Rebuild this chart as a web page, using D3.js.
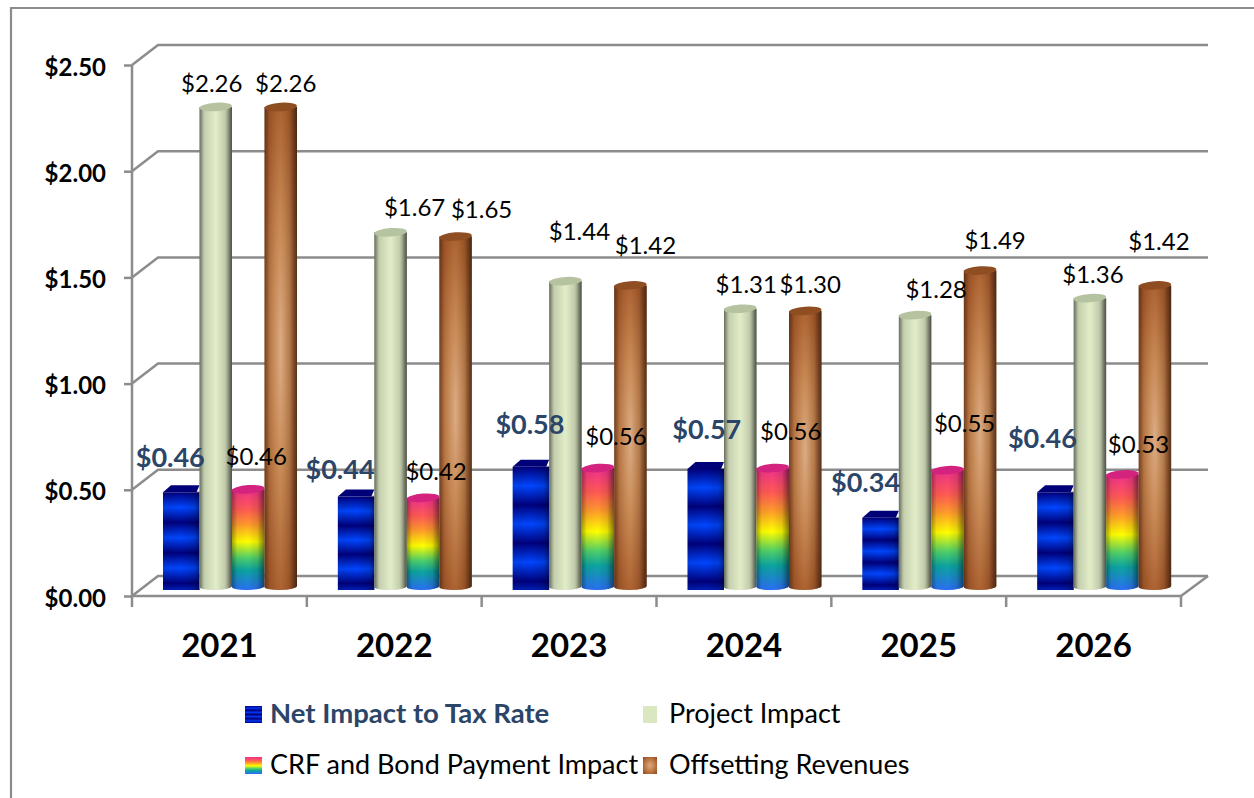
<!DOCTYPE html>
<html>
<head>
<meta charset="utf-8">
<script src="https://cdn.jsdelivr.net/npm/d3@7"></script>
<style>
  html, body { margin: 0; background: #fff; overflow: hidden; }
  text { font-family: Lato, "Open Sans", sans-serif; }
  .axis path, .axis line { stroke: #8c8c8c; stroke-width: 2.5; }
</style>
</head>
<body>
<div id="chart"></div>
<script>
const years = ["2021", "2022", "2023", "2024", "2025", "2026"];
const seriesNames = ["Net Impact to Tax Rate", "Project Impact", "CRF and Bond Payment Impact", "Offsetting Revenues"];
const netImpact = [0.46, 0.44, 0.58, 0.57, 0.34, 0.46];
const projectImpact = [2.26, 1.67, 1.44, 1.31, 1.28, 1.36];
const crfImpact = [0.46, 0.42, 0.56, 0.56, 0.55, 0.53];
const offsetRevenues = [2.26, 1.65, 1.42, 1.30, 1.49, 1.42];
const yTicks = [0, 0.5, 1, 1.5, 2, 2.5];

// hand placed data labels in the original, offset from the top of each bar
const netNudge = [[-13, -35], [-18, -27], [-3, -42], [-1, -39], [-17, -35], [-15, -54]];
const projectNudge = [[-4, -26], [24, -28], [14, -53], [6, -27], [21, -29], [3, -27]];
const crfNudge = [[8, -36], [13, -29], [18, -34], [18, -39], [17, -50], [16, -33]];
const offsetNudge = [[5, -26], [26, -30], [15, -43], [5, -29], [15, -33], [4, -47]];

const width = 1254, height = 798;
const svg = d3.select("#chart").append("svg").attr("width", width).attr("height", height);
const defs = svg.append("defs");

function addGradient(id, attrs, stops, type) {
    const g = defs.append(type || "linearGradient").attr("id", id);
    Object.keys(attrs).forEach(k => g.attr(k, attrs[k]));
    stops.forEach(s => g.append("stop").attr("offset", s[0]).attr("stop-color", s[1]).attr("stop-opacity", s[2] === undefined ? 1 : s[2]));
}

addGradient("blueFill", {x1: 0, y1: 0, x2: 0, y2: 0.31, spreadMethod: "repeat"},
    [[0, "#00007c"], [0.5, "#0046ff"], [1, "#00007c"]]);
addGradient("blueSwatch", {x1: 0, y1: 0, x2: 0, y2: 0.25, spreadMethod: "repeat"},
    [[0, "#00007c"], [0.5, "#0036f0"], [1, "#00007c"]]);
addGradient("rainbowFill", {x1: 0, y1: 0, x2: 0, y2: 1},
    [[0, "#f0308c"], [0.2, "#ff5a55"], [0.35, "#ff9a2c"], [0.52, "#ffff00"], [0.68, "#4fd06a"], [0.8, "#0ca4a0"], [1, "#2a6ff5"]]);
addGradient("greenFill", {x1: 0, y1: 0, x2: 1, y2: 0},
    [[0, "#9da78f"], [0.12, "#cdd8b6"], [0.5, "#e2edc8"], [0.85, "#d6e1bd"], [1, "#99a38a"]]);
addGradient("brownFill", {cx: 0.5, cy: 0.5, r: 0.72},
    [[0, "#dcab84"], [0.35, "#c98a55"], [0.75, "#a85c2c"], [1, "#8e4a20"]], "radialGradient");
addGradient("brownSwatch", {cx: 0.5, cy: 0.5, r: 0.7},
    [[0, "#dcab84"], [0.5, "#c07a45"], [1, "#8e4a20"]], "radialGradient");
addGradient("edgeShade", {x1: 0, y1: 0, x2: 1, y2: 0},
    [[0, "#000", 0.34], [0.16, "#000", 0.05], [0.5, "#000", 0], [0.78, "#000", 0.1], [1, "#000", 0.5]]);
addGradient("boxShade", {x1: 0, y1: 0, x2: 1, y2: 0},
    [[0, "#000", 0.08], [0.5, "#000", 0], [0.85, "#000", 0.12], [1, "#000", 0.42]]);

const y = d3.scaleLinear().domain([0, 2.5]).range([596, 65]);
const x0 = d3.scaleBand().domain(years).range([132, 1181]);
const x1 = d3.scaleBand().domain(seriesNames).range([35, 165]);
const depthX = 26, depthY = 20;
const gridColor = "#8c8c8c";

// frame, only the top and left show in the crop
svg.append("path").attr("d", `M11,${height}V8H${width}`).attr("fill", "none").attr("stroke", gridColor).attr("stroke-width", 2.2);

// back wall lines with the little diagonals
const walls = svg.append("g").attr("fill", "none").attr("stroke", gridColor).attr("stroke-width", 2.5);
yTicks.forEach(t => {
    walls.append("path").attr("d", `M${x0.range()[0]},${y(t)}L${x0.range()[0] + depthX},${y(t) - depthY}H1208`);
});
walls.append("path").attr("d", `M${x0.range()[1]},${y(0)}L1208,${y(0) - depthY}`);

const yAxis = d3.axisLeft(y).tickValues(yTicks).tickSize(8).tickPadding(18).tickFormat(d3.format("$.2f"));
svg.append("g").attr("class", "axis").attr("transform", `translate(${x0.range()[0]},0)`).call(yAxis)
    .call(g => g.select(".domain").attr("d", `M0,${y(2.5)}V${y(0)}`))
    .selectAll("text").attr("font-size", 24).attr("font-weight", 700).attr("fill", "#000").attr("dy", "0.42em");

// floor front edge, ticks sit on group boundaries
const xAxis = d3.axisBottom(x0).tickSize(0).tickPadding(38);
svg.append("g").attr("class", "axis").attr("transform", `translate(0,${y(0)})`).call(xAxis)
    .call(g => g.select(".domain").attr("d", `M${x0.range()[0]},0H${x0.range()[1]}`))
    .selectAll("text").attr("font-size", 33).attr("font-weight", 700).attr("fill", "#000");
svg.selectAll(".bound").data(years.concat("end")).enter().append("line")
    .attr("class", "bound")
    .attr("x1", (d, i) => x0.range()[0] + i * x0.step()).attr("x2", (d, i) => x0.range()[0] + i * x0.step())
    .attr("y1", y(0)).attr("y2", y(0) + 11)
    .attr("stroke", gridColor).attr("stroke-width", 2.5);

function cylinder(g, xLeft, w, topY, bottomY, fill, topFill) {
    const rx = w / 2, ryB = 3.5, ryT = 4.2;
    g.append("path")
        .attr("d", `M${xLeft},${topY}V${bottomY}A${rx},${ryB} -2 0 0 ${xLeft + w},${bottomY - 1}V${topY}Z`)
        .attr("fill", fill);
    g.append("path")
        .attr("d", `M${xLeft},${topY}V${bottomY}A${rx},${ryB} -2 0 0 ${xLeft + w},${bottomY - 1}V${topY}Z`)
        .attr("fill", "url(#edgeShade)");
    g.append("ellipse").attr("cx", xLeft + rx).attr("cy", topY).attr("rx", rx).attr("ry", ryT)
        .attr("transform", `rotate(-4 ${xLeft + rx} ${topY})`).attr("fill", topFill);
}

function box(g, xLeft, w, topY, bottomY) {
    const front = w - 3;
    g.append("path")
        .attr("d", `M${xLeft},${topY}L${xLeft + 8},${topY - 7}H${xLeft + w}L${xLeft + front},${topY}Z`)
        .attr("fill", "#000078");
    g.append("rect").attr("x", xLeft).attr("y", topY).attr("width", w).attr("height", bottomY - topY).attr("fill", "url(#blueFill)");
    g.append("rect").attr("x", xLeft).attr("y", topY - 1).attr("width", w).attr("height", bottomY - topY + 1).attr("fill", "url(#boxShade)");
}

const barWidth = x1.bandwidth();
const barBase = 6; // front of the columns stands a little behind the floor edge
const groups = svg.selectAll(".yearGroup").data(years).enter().append("g")
    .attr("class", "yearGroup")
    .attr("transform", d => `translate(${x0(d)},0)`);

groups.each(function(d, i) {
    const g = d3.select(this);
    const xs = seriesNames.map(s => x1(s));
    box(g, xs[0] - 4, barWidth + 4, y(netImpact[i]) - barBase, y(0) - barBase);
    cylinder(g, xs[1], barWidth, y(projectImpact[i]) - 9, y(0) - 9, "url(#greenFill)", "#b5c3a0");
    cylinder(g, xs[2], barWidth, y(crfImpact[i]) - 9, y(0) - 9, "url(#rainbowFill)", "#d4237f");
    cylinder(g, xs[3], barWidth, y(offsetRevenues[i]) - 9, y(0) - 9, "url(#brownFill)", "#8f4d22");
});

// data labels go above everything
const labelSets = [
    {values: netImpact, nudge: netNudge, color: "#2b4568", weight: 700, size: 27},
    {values: projectImpact, nudge: projectNudge, color: "#000", weight: 400, size: 24},
    {values: crfImpact, nudge: crfNudge, color: "#000", weight: 400, size: 24},
    {values: offsetRevenues, nudge: offsetNudge, color: "#000", weight: 400, size: 24}
];
labelSets.forEach((set, s) => {
    svg.append("g").selectAll("text").data(set.values).enter().append("text")
        .attr("x", (d, i) => x0(years[i]) + x1(seriesNames[s]) + barWidth / 2 + set.nudge[i][0])
        .attr("y", (d, i) => y(d) - barBase + set.nudge[i][1])
        .attr("dy", "0.35em")
        .attr("text-anchor", "middle")
        .attr("font-size", set.size)
        .attr("font-weight", set.weight)
        .attr("fill", set.color)
        .text(d => d3.format("$.2f")(d));
});

// legend
const legendX = [245, 643, 245, 643];
const legendW = [17, 14, 17, 14];
const legendY = [706, 706, 757, 757];
const legendFill = ["url(#blueSwatch)", "#dbe7c1", "url(#rainbowFill)", "url(#brownSwatch)"];
const legendTextX = [270, 669, 270, 669];
seriesNames.forEach((name, i) => {
    svg.append("rect").attr("x", legendX[i]).attr("y", legendY[i]).attr("width", legendW[i]).attr("height", 17).attr("fill", legendFill[i]);
    svg.append("text").attr("x", legendTextX[i]).attr("y", legendY[i] + 17)
        .attr("font-size", i == 0 ? 27.5 : 27)
        .attr("font-weight", i == 0 ? 700 : 400)
        .attr("fill", i == 0 ? "#2b4568" : "#000")
        .text(name);
});
</script>
</body>
</html>
